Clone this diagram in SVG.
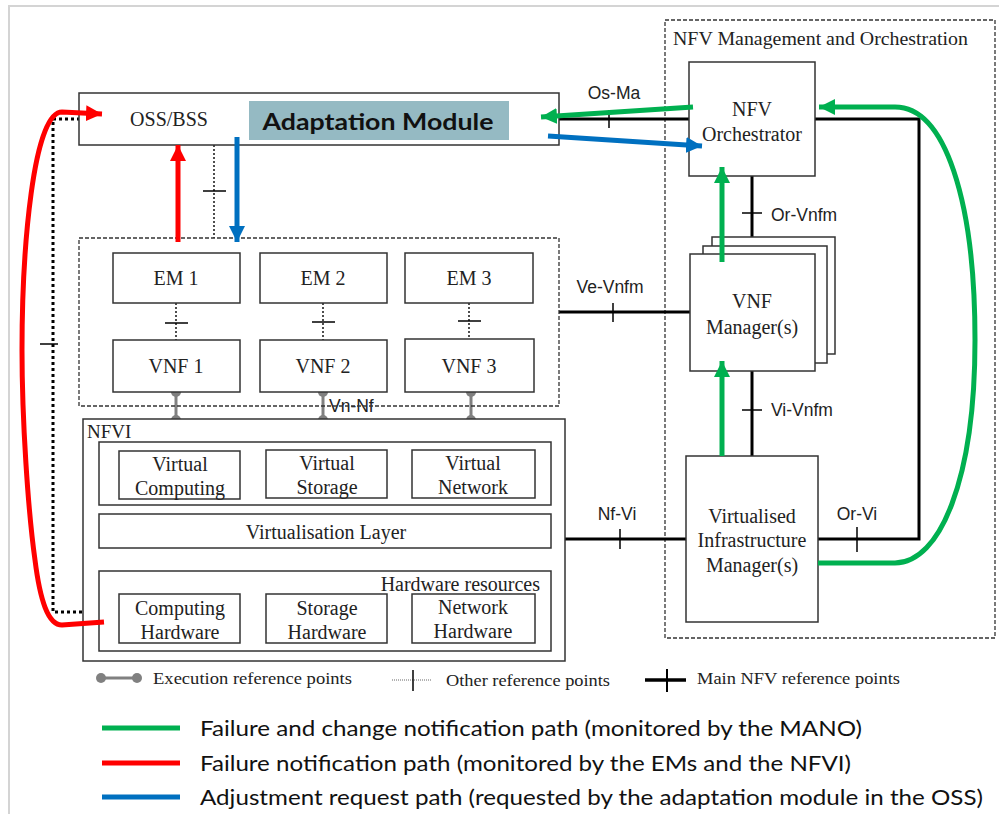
<svg xmlns="http://www.w3.org/2000/svg" width="999" height="814" viewBox="0 0 999 814">
  <style>
    .box { fill: #fff; stroke: #333; stroke-width: 1.5; }
    .dbox { fill: none; stroke: #333; stroke-width: 1.3; stroke-dasharray: 4 2; }
    .serif { font-family: "Liberation Serif", "Times New Roman", serif; fill: #222; }
    .lbl { font-size: 20px; text-anchor: middle; }
    .sans { font-family: "Liberation Sans", Arial, sans-serif; fill: #222; font-size: 17.5px; }
    .gill { font-family: Lato, "Open Sans", sans-serif; fill: #111; }
    .main { fill: none; stroke: #000; stroke-width: 3; }
    .tick { fill: none; stroke: #000; stroke-width: 1.5; }
    .other { fill: none; stroke: #222; stroke-width: 1.6; stroke-dasharray: 2 2; }
    .exec { fill: none; stroke: #808080; stroke-width: 3; }
    .dot { fill: #808080; }
    .g { fill: none; stroke: #00B050; stroke-width: 5; }
    .r { fill: none; stroke: #FF0000; stroke-width: 5; }
    .b { fill: none; stroke: #0070C0; stroke-width: 5; }
  </style>
  <defs>
    <marker id="ahG" markerUnits="userSpaceOnUse" markerWidth="18" markerHeight="18" refX="16" refY="8" orient="auto">
      <path d="M0,0 L16,8 L0,16 Z" fill="#00B050"/>
    </marker>
    <marker id="ahR" markerUnits="userSpaceOnUse" markerWidth="18" markerHeight="18" refX="16" refY="8" orient="auto">
      <path d="M0,0 L16,8 L0,16 Z" fill="#FF0000"/>
    </marker>
    <marker id="ahB" markerUnits="userSpaceOnUse" markerWidth="18" markerHeight="18" refX="16" refY="8" orient="auto">
      <path d="M0,0 L16,8 L0,16 Z" fill="#0070C0"/>
    </marker>
  </defs>

  <rect width="999" height="814" fill="#fff"/>
  <path d="M9,814 L9,6 L999,6" fill="none" stroke="#d4d4d4" stroke-width="2"/>

  <!-- NFV MANO frame -->
  <g id="mano">
    <rect class="dbox" x="665" y="20" width="330" height="618"/>
    <text class="serif" x="673" y="45" font-size="18" textLength="295" lengthAdjust="spacingAndGlyphs">NFV Management and Orchestration</text>
  </g>

  <!-- reference point connectors -->
  <g id="connectors">
    <!-- main NFV reference points -->
    <path class="main" d="M559,119 L689,119"/>
    <path class="tick" d="M609,110 L609,128"/>
    <path class="main" d="M815,119 L919,119 L919,539 L818,539"/>
    <path class="tick" d="M857,527 L857,552"/>
    <path class="main" d="M752,176 L752,254"/>
    <path class="tick" d="M742,213 L762,213"/>
    <path class="main" d="M752,371 L752,456"/>
    <path class="tick" d="M742,410 L762,410"/>
    <path class="main" d="M559,312 L690,312"/>
    <path class="tick" d="M613,303 L613,322"/>
    <path class="main" d="M565,539 L686,539"/>
    <path class="tick" d="M620,529 L620,549"/>

    <!-- other reference points -->
    <path class="other" d="M214,145 L214,238"/>
    <path class="tick" d="M203,191 L226,191"/>
    <path class="other" d="M176,303 L176,340"/>
    <path class="tick" d="M165,323 L188,323"/>
    <path class="other" d="M323,303 L323,340"/>
    <path class="tick" d="M312,322 L335,322"/>
    <path class="other" d="M469,303 L469,340"/>
    <path class="tick" d="M458,321 L481,321"/>
    <path d="M80,119 L53,119 L53,612 L100,612" fill="none" stroke="#000" stroke-width="3" stroke-dasharray="3 3"/>
    <path class="tick" d="M40,344 L58,344"/>

    <!-- execution reference points -->
    <path class="exec" d="M176,392 L176,420"/>
    <circle class="dot" cx="176" cy="392" r="5"/><circle class="dot" cx="176" cy="420" r="5"/>
    <path class="exec" d="M323,392 L323,420"/>
    <circle class="dot" cx="323" cy="392" r="5"/><circle class="dot" cx="323" cy="420" r="5"/>
    <path class="exec" d="M471,392 L471,420"/>
    <circle class="dot" cx="471" cy="392" r="5"/><circle class="dot" cx="471" cy="420" r="5"/>
    <path class="exec" d="M325,548 L325,571"/>
    <circle class="dot" cx="325" cy="548" r="5"/><circle class="dot" cx="325" cy="571" r="5"/>

    <!-- labels -->
    <text class="sans" x="614" y="99" text-anchor="middle">Os-Ma</text>
    <text class="sans" x="771" y="221">Or-Vnfm</text>
    <text class="sans" x="610" y="293" text-anchor="middle">Ve-Vnfm</text>
    <text class="sans" x="771" y="416">Vi-Vnfm</text>
    <text class="sans" x="617" y="520" text-anchor="middle">Nf-Vi</text>
    <text class="sans" x="857" y="520" text-anchor="middle">Or-Vi</text>
    <text class="sans" x="329" y="412">Vn-Nf</text>
    <text class="sans" x="290" y="567" text-anchor="middle">Vl-Ha</text>
  </g>

  <!-- OSS/BSS -->
  <g id="oss">
    <rect class="box" x="79" y="93" width="480" height="52"/>
    <text class="serif lbl" x="169" y="126">OSS/BSS</text>
    <rect x="249" y="101" width="260" height="39" fill="#95BAC3"/>
    <text class="gill" x="378" y="130" font-size="23" font-weight="bold" text-anchor="middle" textLength="231" lengthAdjust="spacingAndGlyphs">Adaptation Module</text>
  </g>

  <!-- EMs and VNFs -->
  <g id="vnf-domain">
    <rect class="dbox" x="79" y="238" width="480" height="168"/>
  </g>
  <g id="em1"><rect class="box" x="113" y="253" width="127" height="50"/><text class="serif lbl" x="176" y="285">EM 1</text></g>
  <g id="em2"><rect class="box" x="260" y="253" width="127" height="50"/><text class="serif lbl" x="323" y="285">EM 2</text></g>
  <g id="em3"><rect class="box" x="405" y="253" width="128" height="50"/><text class="serif lbl" x="469" y="285">EM 3</text></g>
  <g id="vnf1"><rect class="box" x="113" y="340" width="127" height="52"/><text class="serif lbl" x="176" y="373">VNF 1</text></g>
  <g id="vnf2"><rect class="box" x="260" y="340" width="127" height="52"/><text class="serif lbl" x="323" y="373">VNF 2</text></g>
  <g id="vnf3"><rect class="box" x="405" y="339" width="129" height="53"/><text class="serif lbl" x="469" y="373">VNF 3</text></g>

  <!-- NFVI -->
  <g id="nfvi">
    <rect class="box" x="83" y="419" width="482" height="242"/>
    <text class="serif" x="87" y="438" font-size="19">NFVI</text>
    <rect class="box" x="99" y="442" width="452" height="63"/>
    <rect class="box" x="99" y="514" width="452" height="34"/>
    <text class="serif lbl" x="326" y="539">Virtualisation Layer</text>
    <rect class="box" x="99" y="571" width="452" height="80"/>
    <text class="serif" x="540" y="591" font-size="20" text-anchor="end">Hardware resources</text>
  </g>
  <g id="virtual-computing"><rect class="box" x="119" y="451" width="121" height="48"/><text class="serif lbl" x="180" y="471">Virtual</text><text class="serif lbl" x="180" y="495">Computing</text></g>
  <g id="virtual-storage"><rect class="box" x="266" y="450" width="121" height="48"/><text class="serif lbl" x="327" y="470">Virtual</text><text class="serif lbl" x="327" y="494">Storage</text></g>
  <g id="virtual-network"><rect class="box" x="412" y="450" width="123" height="48"/><text class="serif lbl" x="473" y="470">Virtual</text><text class="serif lbl" x="473" y="494">Network</text></g>
  <g id="computing-hw"><rect class="box" x="119" y="594" width="121" height="49"/><text class="serif lbl" x="180" y="615">Computing</text><text class="serif lbl" x="180" y="639">Hardware</text></g>
  <g id="storage-hw"><rect class="box" x="266" y="594" width="121" height="49"/><text class="serif lbl" x="327" y="615">Storage</text><text class="serif lbl" x="327" y="639">Hardware</text></g>
  <g id="network-hw"><rect class="box" x="412" y="594" width="123" height="49"/><text class="serif lbl" x="473" y="614">Network</text><text class="serif lbl" x="473" y="638">Hardware</text></g>

  <!-- MANO blocks -->
  <g id="orchestrator">
    <rect class="box" x="689" y="62" width="126" height="114"/>
    <text class="serif lbl" x="752" y="116">NFV</text>
    <text class="serif lbl" x="752" y="141">Orchestrator</text>
  </g>
  <g id="vnf-manager">
    <rect class="box" x="712" y="237" width="123" height="117"/>
    <rect class="box" x="703" y="246" width="124" height="117"/>
    <rect class="box" x="690" y="254" width="125" height="117"/>
    <text class="serif lbl" x="752" y="308">VNF</text>
    <text class="serif lbl" x="752" y="334">Manager(s)</text>
  </g>
  <g id="vim">
    <rect class="box" x="686" y="456" width="132" height="166"/>
    <text class="serif lbl" x="752" y="523">Virtualised</text>
    <text class="serif lbl" x="752" y="547">Infrastructure</text>
    <text class="serif lbl" x="752" y="572">Manager(s)</text>
  </g>

  <!-- notification and request paths -->
  <g id="paths">
    <path class="g" d="M693,107 L541,117" marker-end="url(#ahG)"/>
    <path class="b" d="M548,136 L702,146" marker-end="url(#ahB)"/>
    <path class="g" d="M722,262 L722,167" marker-end="url(#ahG)"/>
    <path class="g" d="M722,456 L722,361" marker-end="url(#ahG)"/>
    <path class="g" d="M818,563 L895,563 C940,563 975,480 975,340 C975,200 945,107 895,107 L819,107" marker-end="url(#ahG)"/>
    <path class="r" d="M104,622 L62,625 C48,625 40,600 35,560 C28,510 22,420 22,350 C22,250 33,112 62,112 L102,114" marker-end="url(#ahR)"/>
    <path class="r" d="M178,242 L178,145" marker-end="url(#ahR)"/>
    <path class="b" d="M237,137 L237,242" marker-end="url(#ahB)"/>
  </g>

  <!-- legend -->
  <g id="legend">
    <path class="exec" d="M101,678 L137,678"/>
    <circle class="dot" cx="101" cy="678" r="5"/><circle class="dot" cx="137" cy="678" r="5"/>
    <text class="serif" x="153" y="684" font-size="17" textLength="199" lengthAdjust="spacingAndGlyphs">Execution reference points</text>
    <path d="M392,680 L432,680" fill="none" stroke="#666" stroke-width="1" stroke-dasharray="1 1"/>
    <path d="M413,670 L413,691" fill="none" stroke="#000" stroke-width="1.5"/>
    <text class="serif" x="446" y="686" font-size="17" textLength="164" lengthAdjust="spacingAndGlyphs">Other reference points</text>
    <path d="M645,680 L686,680" fill="none" stroke="#000" stroke-width="3.5"/>
    <path d="M667,669 L667,692" fill="none" stroke="#000" stroke-width="2"/>
    <text class="serif" x="697" y="684" font-size="17" textLength="203" lengthAdjust="spacingAndGlyphs">Main NFV reference points</text>

    <path class="g" d="M102,728 L180,728"/>
    <text class="gill" x="200" y="736" font-size="22" textLength="662" lengthAdjust="spacingAndGlyphs">Failure and change notification path (monitored by the MANO)</text>
    <path class="r" d="M102,763 L180,763"/>
    <text class="gill" x="200" y="771" font-size="22" textLength="651" lengthAdjust="spacingAndGlyphs">Failure notification path (monitored by the EMs and the NFVI)</text>
    <path class="b" d="M102,797 L180,797"/>
    <text class="gill" x="200" y="805" font-size="22" textLength="783" lengthAdjust="spacingAndGlyphs">Adjustment request path (requested by the adaptation module in the OSS)</text>
  </g>
</svg>
